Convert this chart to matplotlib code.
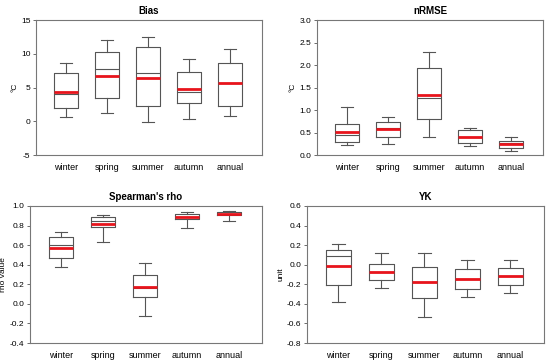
import numpy as np
import matplotlib as mpl
import matplotlib.pyplot as plt
mpl.use('Agg')

plt.rcParams['font.family'] = ['Liberation Sans', 'DejaVu Sans']

seasons = ['winter', 'spring', 'summer', 'autumn', 'annual']

# whisker low, q1, median, q3, whisker high, mean
bias_lo = [0.6, 1.2, -0.1, 0.4, 0.75]
bias_q1 = [1.9, 3.5, 2.2, 2.65, 2.25]
bias_med = [4.0, 7.8, 7.1, 4.3, 5.6]
bias_q3 = [7.1, 10.3, 11.0, 7.3, 8.6]
bias_hi = [8.7, 12.0, 12.5, 9.2, 10.65]
bias_mean = [4.4, 6.75, 6.4, 4.75, 5.6]

nrmse_lo = [0.22, 0.24, 0.41, 0.2, 0.10]
nrmse_q1 = [0.29, 0.41, 0.79, 0.27, 0.16]
nrmse_med = [0.45, 0.60, 1.26, 0.40, 0.26]
nrmse_q3 = [0.69, 0.74, 1.93, 0.55, 0.32]
nrmse_hi = [1.07, 0.84, 2.28, 0.60, 0.41]
nrmse_mean = [0.52, 0.57, 1.34, 0.41, 0.24]

rho_lo = [0.377, 0.634, -0.123, 0.774, 0.85]
rho_q1 = [0.466, 0.79, 0.068, 0.87, 0.908]
rho_med = [0.60, 0.846, 0.16, 0.89, 0.92]
rho_q3 = [0.685, 0.884, 0.295, 0.92, 0.935]
rho_hi = [0.73, 0.91, 0.414, 0.94, 0.945]
rho_mean = [0.575, 0.815, 0.168, 0.884, 0.914]

yk_lo = [-0.38, -0.24, -0.53, -0.33, -0.29]
yk_q1 = [-0.21, -0.16, -0.345, -0.25, -0.205]
yk_med = [0.086, -0.07, -0.18, -0.147, -0.116]
yk_q3 = [0.15, 0.011, -0.027, -0.047, -0.03]
yk_hi = [0.21, 0.12, 0.12, 0.052, 0.045]
yk_mean = [-0.016, -0.075, -0.18, -0.147, -0.116]

panels = [
    ('Bias', '°C', (-5, 15), [-5, 0, 5, 10, 15], '%g',
     bias_lo, bias_q1, bias_med, bias_q3, bias_hi, bias_mean),
    ('nRMSE', '°C', (0, 3), [0, 0.5, 1.0, 1.5, 2.0, 2.5, 3.0], '%.1f',
     nrmse_lo, nrmse_q1, nrmse_med, nrmse_q3, nrmse_hi, nrmse_mean),
    ("Spearman's rho", 'rho value', (-0.4, 1.0), [-0.4, -0.2, 0, 0.2, 0.4, 0.6, 0.8, 1.0], '%.1f',
     rho_lo, rho_q1, rho_med, rho_q3, rho_hi, rho_mean),
    ('YK', 'unit', (-0.8, 0.6), [-0.8, -0.6, -0.4, -0.2, 0, 0.2, 0.4, 0.6], '%.1f',
     yk_lo, yk_q1, yk_med, yk_q3, yk_hi, yk_mean),
]

# axes rects in figure pixels (left, top, right, bottom)
W, H = 550, 362
rects = [(36, 20, 262, 155), (317, 20, 543, 155), (30, 206, 262, 343), (307, 206, 544, 343)]

fig = plt.figure(figsize=(5.5, 3.62), dpi=100)
edge = '#555555'
for (title, ylab, ylim, yticks, fmt, lo, q1, med, q3, hi, mn), (l, t, r, b) in zip(panels, rects):
    ax = fig.add_axes([l / W, 1 - b / H, (r - l) / W, (b - t) / H])
    stats = []
    for i in range(len(seasons)):
        stats.append(dict(whislo=lo[i], q1=q1[i], med=med[i], q3=q3[i], whishi=hi[i],
                          mean=mn[i], fliers=[], label=seasons[i]))
    ax.bxp(stats, positions=np.arange(1, 6), widths=0.58, showmeans=True, meanline=True,
           boxprops=dict(color=edge, linewidth=0.8),
           whiskerprops=dict(color=edge, linewidth=0.8),
           capprops=dict(color=edge, linewidth=0.8),
           medianprops=dict(color=edge, linewidth=0.8),
           meanprops=dict(color='#e8141c', linewidth=2.0, linestyle='-'))
    ax.set_xlim(0.27, 5.78)
    ax.set_ylim(*ylim)
    ax.set_yticks(yticks)
    ax.yaxis.set_major_formatter(mpl.ticker.FormatStrFormatter(fmt))
    ax.tick_params(axis='y', labelsize=6, length=2.5, width=0.6, color=edge, pad=1.5)
    ax.tick_params(axis='x', labelsize=6.5, length=0, pad=6)
    for s in ax.spines.values():
        s.set_color('#777777')
        s.set_linewidth(0.8)
    ax.set_title(title, fontsize=7, fontweight='bold', pad=4)
    ax.set_ylabel(ylab, fontsize=6, labelpad=2)

fig.savefig('out.png', dpi=100)
